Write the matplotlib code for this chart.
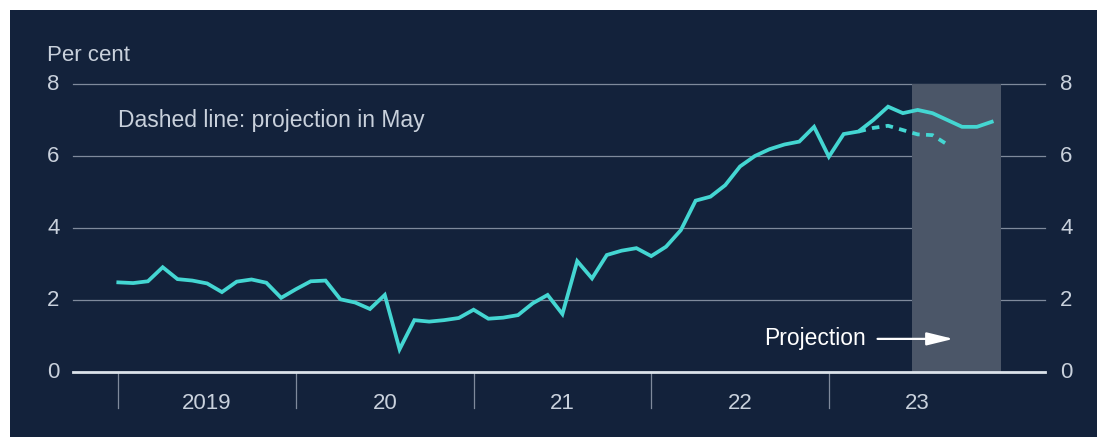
import matplotlib.pyplot as plt
import numpy as np
from matplotlib.patches import Rectangle

plt.rcParams['font.family'] = ['Liberation Sans', 'DejaVu Sans']

# monthly rate, Jan 2019 - Dec 2023 (per cent)
rate = [2.49, 2.47, 2.52, 2.91, 2.58, 2.54, 2.46, 2.22, 2.51, 2.57, 2.48, 2.06,
        2.30, 2.52, 2.54, 2.02, 1.93, 1.75, 2.14, 0.63, 1.44, 1.40, 1.44, 1.50,
        1.73, 1.48, 1.51, 1.58, 1.91, 2.14, 1.61, 3.08, 2.60, 3.25, 3.37, 3.44,
        3.22, 3.48, 3.94, 4.76, 4.87, 5.19, 5.71, 6.00, 6.19, 6.32, 6.40, 6.81,
        5.98, 6.61, 6.68, 7.00, 7.37, 7.19, 7.28, 7.19, 7.00, 6.81, 6.81, 6.95]
# projection made in May, Mar - Sep 2023
may_start = 50
may_proj = [6.68, 6.78, 6.84, 6.72, 6.60, 6.58, 6.32]
year_labels = ['2019', '20', '21', '22', '23']
yticks = [0, 2, 4, 6, 8]
proj_span = (53.6, 59.6)

bg = '#13223b'
fg = '#c9d1dc'
grid = '#7f8a9c'
teal = '#44d6d2'
fs = 16

W, H = 1099, 437
fig = plt.figure(figsize=(W / 100, H / 100), dpi=100)
fig.patch.set_facecolor('white')
fig.patches.append(Rectangle((10 / W, 0), 1087 / W, 427 / H,
                             transform=fig.transFigure, facecolor=bg,
                             edgecolor='none', zorder=-10))

ax = fig.add_axes([73 / W, 65 / H, 972 / W, 288 / H])
ax.set_facecolor('none')
ax.set_xlim(-3.06, 62.6)
ax.set_ylim(0, 8)
for s in ax.spines.values():
    s.set_visible(False)
ax.set_xticks([])
ax.set_yticks([])

# gridlines and labels on both sides
for y in yticks:
    if y == 0:
        ax.axhline(0, color='#dbe2ea', lw=2.0, zorder=3, clip_on=False)
    else:
        ax.axhline(y, color=grid, lw=0.9, zorder=1, clip_on=False)
    ax.text(-0.0267, y, str(y), transform=ax.get_yaxis_transform(),
            ha='left', va='center', color=fg, fontsize=fs)
    ax.text(1.0155, y, str(y), transform=ax.get_yaxis_transform(),
            ha='left', va='center', color=fg, fontsize=fs)

ax.text(-0.0267, 8.8, 'Per cent', ha='left', va='center', color=fg,
        fontsize=fs, transform=ax.get_yaxis_transform())

# year separators and labels
for k, lab in enumerate(year_labels):
    ax.plot([12 * k, 12 * k], [0, -1.0], color=grid, lw=0.9, clip_on=False)
    ax.text(12 * k + 6, -0.88, lab, ha='center', va='center', color=fg,
            fontsize=fs)

ax.axvspan(*proj_span, ymin=0, ymax=1, color='#4b5668', lw=0, zorder=1)

x = np.arange(len(rate))
ax.plot(x, rate, color=teal, lw=2.7, zorder=4, solid_joinstyle='miter')
xp = np.arange(may_start, may_start + len(may_proj))
ax.plot(xp, may_proj, color=teal, lw=2.7, ls=(0, (2.0, 1.7)), zorder=4)

ax.text(0, 7.0, 'Dashed line: projection in May', color=fg, fontsize=16.5,
        va='center', ha='left')
ax.text(50.5, 0.92, 'Projection', color='white', fontsize=16.5,
        va='center', ha='right')
ax.annotate('', xy=(56.6, 0.92), xytext=(51.1, 0.92),
            arrowprops=dict(arrowstyle='-|>,head_length=0.9,head_width=0.22',
                            color='white', lw=1.6, mutation_scale=18))

fig.savefig('out.png', dpi=100, facecolor=fig.get_facecolor())
